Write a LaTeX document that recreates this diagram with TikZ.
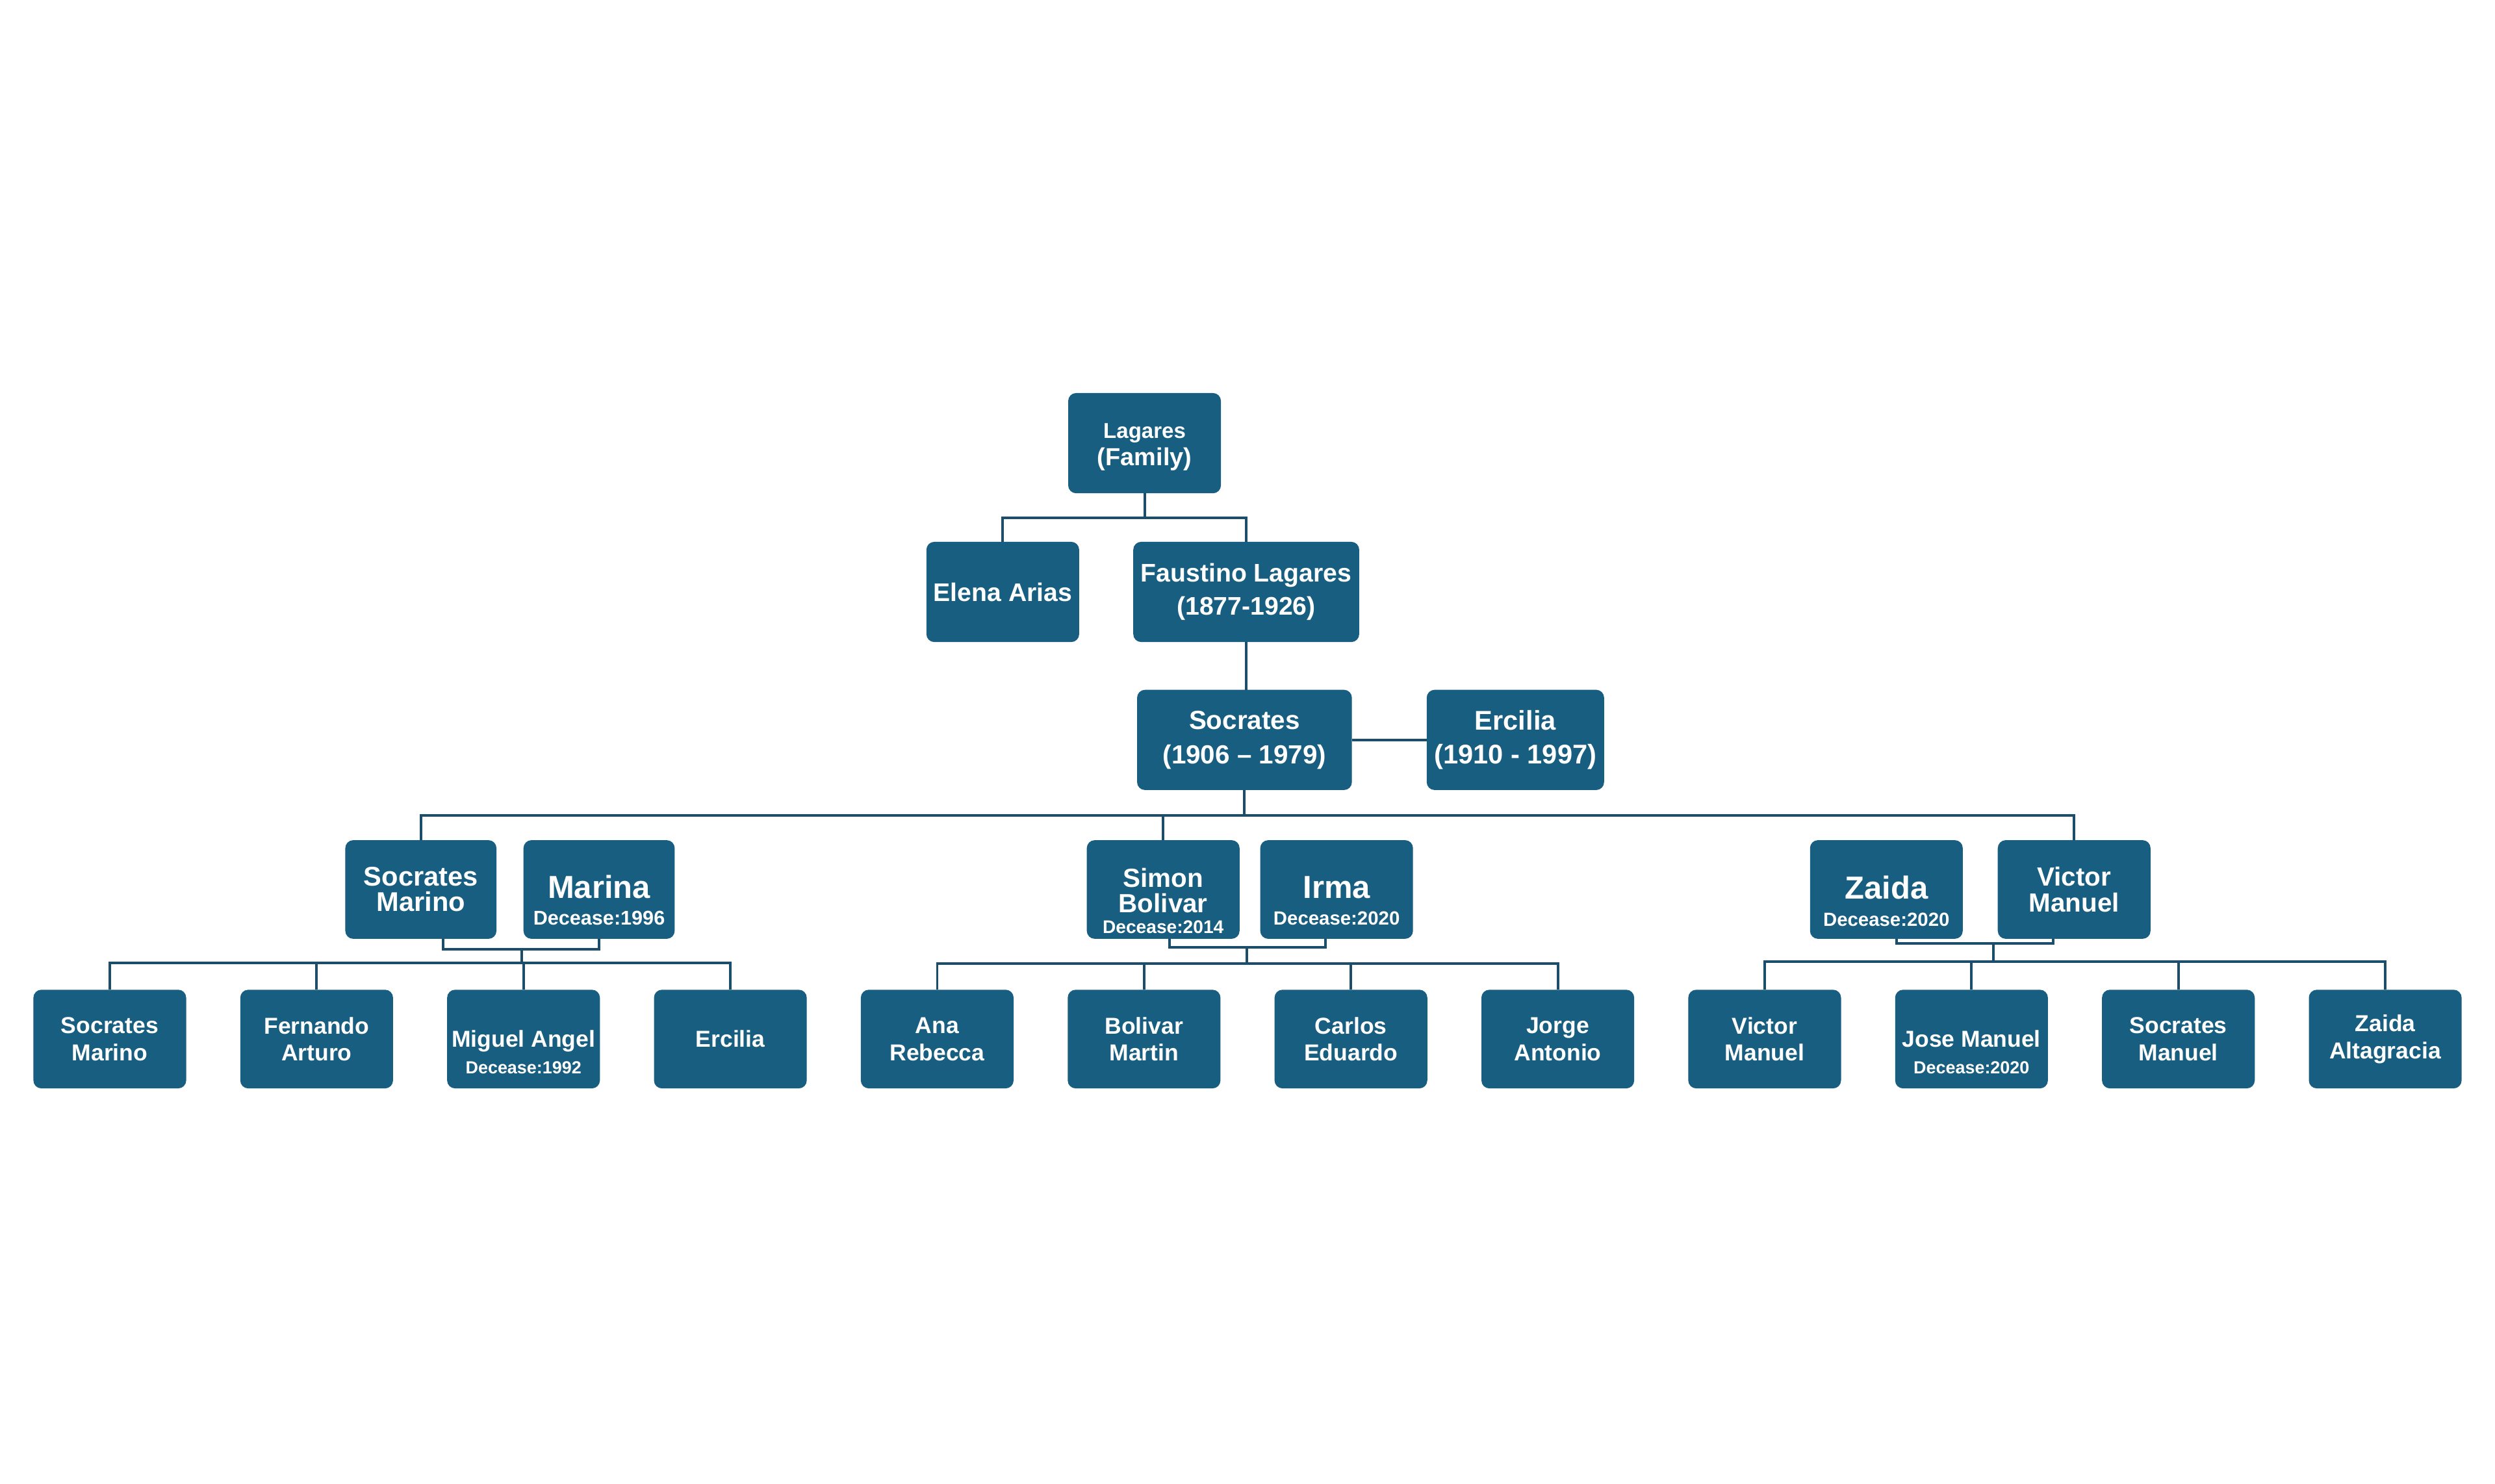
\documentclass[tikz,border=0pt]{standalone}
\usepackage{fontspec}
\setmainfont{Liberation Sans}
\usetikzlibrary{positioning}
\definecolor{famblue}{RGB}{24,94,128}
\definecolor{linkblue}{RGB}{28,78,108}
\tikzset{person/.style={rectangle, rounded corners=5pt, fill=famblue, text=white, minimum width=96pt, minimum height=62pt, inner sep=1pt, outer sep=0pt, align=center, font=\bfseries\fontsize{16.5}{16}\selectfont},
  elder/.style={person, minimum height=63pt, font=\bfseries\fontsize{16.5}{21.5}\selectfont},
  grandkid/.style={person, font=\bfseries\fontsize{14.5}{17}\selectfont},
  link/.style={draw=linkblue, line width=1.6pt}}

\begin{document}
\begin{tikzpicture}[x=1pt,y=-1pt]
  \useasboundingbox (0,0) rectangle (1568,932.6);
  % family head and first generation
  \node[person, minimum height=63pt, font=\bfseries\fontsize{15.5}{17}\selectfont] (lagares) at (719.3,278.5) {\rule{0pt}{14pt}{\fontsize{13.5}{17}\selectfont Lagares}\\(Family)};
  \node[elder, minimum width=142pt, font=\bfseries\fontsize{16}{21}\selectfont] (faustino) at (783.2,372) {Faustino Lagares\\(1877-1926)};
  \node[elder, font=\bfseries\fontsize{16}{21}\selectfont, left=34pt of faustino] (elena) {Elena Arias};
  \node[elder, minimum width=135pt] (socrates) at (782.1,465) {Socrates\\(1906 -- 1979)};
  \node[elder, minimum width=111.5pt, font=\bfseries\fontsize{17}{21}\selectfont, right=47pt of socrates] (ercilia) {Ercilia\\(1910 - 1997)};

  % their children and spouses
  \node[person, minimum width=95pt, font=\bfseries\fontsize{17}{16}\selectfont] (socmarino) at (264.5,559) {Socrates\\Marino};
  \node[person, minimum width=95pt, font=\bfseries\fontsize{12.5}{17}\selectfont, right=17pt of socmarino] (marina) {\rule{0pt}{28pt}{\fontsize{20}{17}\selectfont Marina}\\Decease:1996};
  \node[person] (simon) at (731,559) {\rule{0pt}{26pt}Simon\\Bolivar\\[-3pt]{\fontsize{11.5}{15}\selectfont Decease:2014}};
  \node[person, font=\bfseries\fontsize{12}{17}\selectfont, right=13pt of simon] (irma) {\rule{0pt}{28pt}{\fontsize{20}{17}\selectfont Irma}\\Decease:2020};
  \node[person, font=\bfseries\fontsize{12}{17}\selectfont] (zaida) at (1185.5,559) {\rule{0pt}{29pt}{\fontsize{20}{17}\selectfont Zaida}\\Decease:2020};
  \node[person, right=22pt of zaida] (victor) {Victor\\Manuel};

  % grandchildren
  \node[grandkid] (g1) at (69,653) {Socrates\\Marino};
  \node[grandkid, right=34pt of g1] (g2) {Fernando\\Arturo};
  \node[grandkid, right=34pt of g2] (g3) {\rule{0pt}{27pt}Miguel Angel\\{\fontsize{11}{16}\selectfont Decease:1992}};
  \node[grandkid, right=34pt of g3] (g4) {Ercilia};
  \node[grandkid, right=34pt of g4] (g5) {Ana\\Rebecca};
  \node[grandkid, right=34pt of g5] (g6) {Bolivar\\Martin};
  \node[grandkid, right=34pt of g6] (g7) {Carlos\\Eduardo};
  \node[grandkid, right=34pt of g7] (g8) {Jorge\\Antonio};
  \node[grandkid, right=34pt of g8] (g9) {Victor\\Manuel};
  \node[grandkid, right=34pt of g9] (g10) {\rule{0pt}{27pt}Jose Manuel\\{\fontsize{11}{16}\selectfont Decease:2020}};
  \node[grandkid, right=34pt of g10] (g11) {Socrates\\Manuel};
  \node[grandkid, right=34pt of g11] (g12) {Zaida\\Altagracia};

  % junctions
  \coordinate (k1) at (327.7,596.4);
  \coordinate (b1) at (327.7,605);
  \coordinate (k2) at (783.7,595.4);
  \coordinate (b2) at (783.7,605.5);
  \coordinate (k3) at (1252.8,593);
  \coordinate (b3) at (1252.8,604.5);

  % connectors
  \draw[link] (lagares.south) -- ++(0,15.5) coordinate (tb);
  \draw[link] (elena.north) |- (tb) -| (faustino.north);
  \draw[link] (faustino.south) -- (faustino.south |- socrates.north);
  \draw[link] (socrates) -- (ercilia);
  \draw[link] (socrates.south) -- ++(0,16) coordinate (mb);
  \draw[link] (socmarino.north) |- (mb) -| (victor.north);
  \draw[link] (simon.north) -- (simon.north |- mb);

  \draw[link] ([xshift=14pt]socmarino.south) |- (k1) -| (marina.south);
  \draw[link] (k1) -- (b1);
  \draw[link] (g1.north) |- (b1) -| (g4.north);
  \draw[link] (g2.north) -- (g2.north |- b1);
  \draw[link] (g3.north) -- (g3.north |- b1);

  \draw[link] ([xshift=4pt]simon.south) |- (k2) -| ([xshift=-7pt]irma.south);
  \draw[link] (k2) -- (b2);
  \draw[link] (g5.north) |- (b2) -| (g8.north);
  \draw[link] (g6.north) -- (g6.north |- b2);
  \draw[link] (g7.north) -- (g7.north |- b2);

  \draw[link] ([xshift=6.5pt]zaida.south) |- (k3) -| ([xshift=-13pt]victor.south);
  \draw[link] (k3) -- (b3);
  \draw[link] (g9.north) |- (b3) -| (g12.north);
  \draw[link] (g10.north) -- (g10.north |- b3);
  \draw[link] (g11.north) -- (g11.north |- b3);
\end{tikzpicture}
\end{document}
